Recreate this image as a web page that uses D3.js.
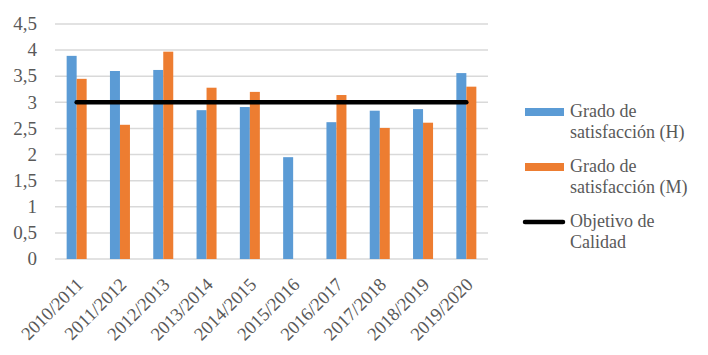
<!DOCTYPE html>
<html><head><meta charset="utf-8">
<script src="https://cdn.jsdelivr.net/npm/d3@7"></script>
<style>body{margin:0;background:#fff}svg{display:block}</style>
</head><body><svg id="c" width="708" height="355"></svg>
<script>
const categories = ["2010/2011","2011/2012","2012/2013","2013/2014","2014/2015","2015/2016","2016/2017","2017/2018","2018/2019","2019/2020"];
const seriesH = [3.89,3.60,3.62,2.85,2.91,1.95,2.62,2.84,2.87,3.56];
const seriesM = [3.45,2.57,3.97,3.28,3.20,null,3.14,2.51,2.61,3.30];
const objetivo = [3,3,3,3,3,3,3,3,3,3];
const yTicks = [0,0.5,1,1.5,2,2.5,3,3.5,4,4.5];
const yTickLabels = ["0","0,5","1","1,5","2","2,5","3","3,5","4","4,5"];
const legendLabels = [["Grado de","satisfacción (H)"],["Grado de","satisfacción (M)"],["Objetivo de","Calidad"]];
const colors = ["#5b9bd5","#ed7d31","#000000"];

const FF = '"Liberation Serif"';
const svg = d3.select("#c");
const m = {left:55, right:220, top:24, bottom:96};
const W = 708, H = 355;
const x = d3.scaleBand().domain(categories).range([m.left, W - m.right]).paddingInner(0).paddingOuter(0);
const y = d3.scaleLinear().domain([0,4.5]).range([H - m.bottom, m.top]);
const bw = 10;
const tc = "#595959";

svg.append("g").selectAll("line").data(yTicks).join("line")
  .attr("x1", m.left).attr("x2", W - m.right)
  .attr("y1", d => y(d)).attr("y2", d => y(d))
  .attr("stroke", "#d9d9d9").attr("stroke-width", 1.5);

svg.append("g").selectAll("text").data(yTicks).join("text")
  .attr("x", 37).attr("y", d => y(d)).attr("dy", "0.33em")
  .attr("text-anchor", "end").attr("font-size", 19).attr("fill", tc).style("font-family", FF)
  .text((d,i) => yTickLabels[i]);

const cx = c => x(c) + x.bandwidth()/2;
svg.append("g").selectAll("rect").data(categories.map((c,i)=>({c,v:seriesH[i]})).filter(d=>d.v!=null)).join("rect")
  .attr("x", d => cx(d.c) - bw).attr("width", bw)
  .attr("y", d => y(d.v)).attr("height", d => y(0) - y(d.v))
  .attr("fill", colors[0]);
svg.append("g").selectAll("rect").data(categories.map((c,i)=>({c,v:seriesM[i]})).filter(d=>d.v!=null)).join("rect")
  .attr("x", d => cx(d.c)).attr("width", bw)
  .attr("y", d => y(d.v)).attr("height", d => y(0) - y(d.v))
  .attr("fill", colors[1]);

svg.append("path")
  .datum(categories.map((c,i)=>({c,v:objetivo[i]})))
  .attr("d", d3.line().x(d => cx(d.c)).y(d => y(d.v)))
  .attr("fill","none").attr("stroke", colors[2]).attr("stroke-width", 4.5).attr("stroke-linecap","round");

svg.append("g").selectAll("text").data(categories).join("text")
  .attr("transform", d => `translate(${cx(d)+3},${y(0)+22}) rotate(-45)`)
  .attr("text-anchor", "end").attr("dy", "0.35em").attr("font-size", 18.5).attr("fill", tc).style("font-family", FF)
  .text(d => d);

const lg = svg.append("g");
const ly = [112, 167, 222];
legendLabels.forEach((lab, i) => {
  if (i < 2) {
    lg.append("rect").attr("x", 525).attr("y", ly[i]-4).attr("width", 39).attr("height", 8).attr("fill", colors[i]);
  } else {
    lg.append("line").attr("x1", 525).attr("x2", 563).attr("y1", ly[i]).attr("y2", ly[i])
      .attr("stroke", colors[i]).attr("stroke-width", 4.5).attr("stroke-linecap","round");
  }
  const t = lg.append("text").attr("x", 570).attr("y", ly[i]+5).attr("font-size", 18).attr("fill", tc).style("font-family", FF);
  lab.forEach((s, j) => t.append("tspan").attr("x", 570).attr("dy", j ? 21 : 0).text(s));
});
</script></body></html>
